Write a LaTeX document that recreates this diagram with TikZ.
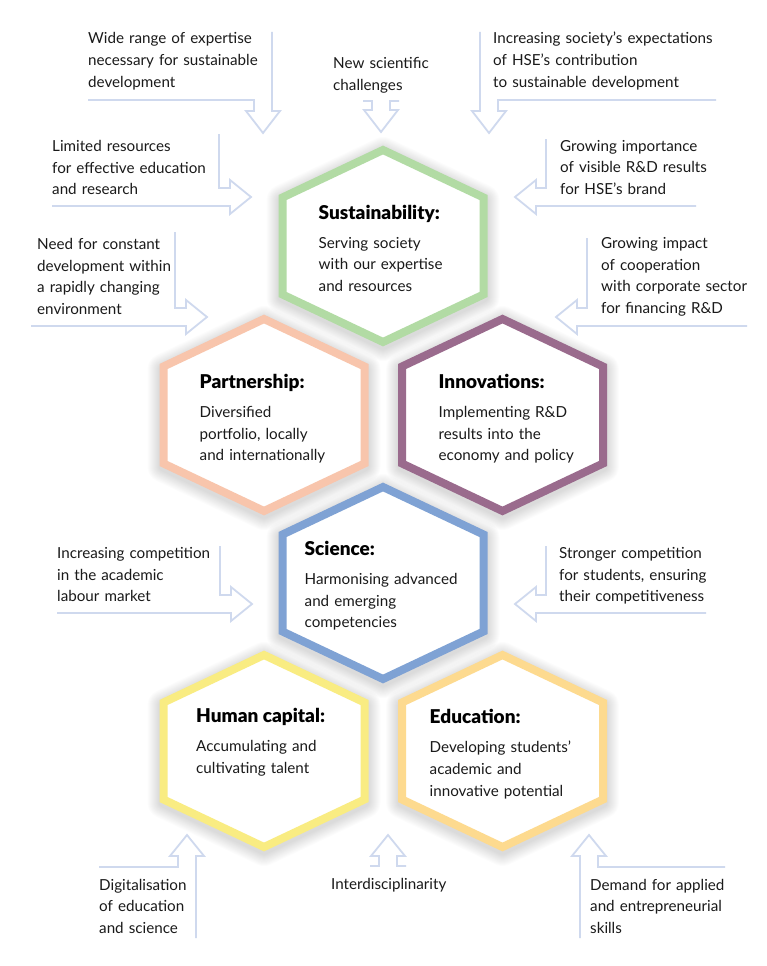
\documentclass[tikz,border=0pt]{standalone}
\usepackage{fontspec}
\setmainfont{Lato}
\newfontfamily\titlefont{Lato Black}
\definecolor{arr}{HTML}{CFD9EE}
\definecolor{cgreen}{HTML}{B2DBA4}
\definecolor{cpeach}{HTML}{F8C5AC}
\definecolor{cpurple}{HTML}{9A6B8D}
\definecolor{cblue}{HTML}{7FA2D4}
\definecolor{cyellow}{HTML}{F9EC82}
\definecolor{corange}{HTML}{FDDA8F}
\definecolor{txt}{HTML}{1A1A1A}
\tikzset{
  arrowline/.style={draw=arr, line width=1.8pt, line join=miter},
  hexline/.style={line width=8pt, fill=white, line join=miter},
  lbl/.style={anchor=base west, inner sep=0pt, align=left, text width=260pt, text=txt,
    font=\fontsize{15.2}{21.7}\selectfont},
  ttl/.style={anchor=base west, inner sep=0pt, text=black, font=\titlefont\fontsize{19}{21.7}\selectfont},
}
\begin{document}
\begin{tikzpicture}[x=1pt,y=-1pt]
\fill[white] (0,0) rectangle (767,966);
\useasboundingbox (0,0) rectangle (767,966);

% shadows
\foreach \cx/\cy in {383/246, 264/415, 502.5/415, 383/583, 264/751, 502.5/751}{
  \foreach \k in {1,...,12}{
    \pgfmathsetmacro\lw{8+2*\k}
    \draw[black, opacity=0.011, line width=\lw pt, line join=round]
      (\cx,\cy+3) ++(0,-96) -- ++(100.5,47.5) -- ++(0,97) -- ++(-100.5,47.5)
      -- ++(-100.5,-47.5) -- ++(0,-97) -- cycle;
  }
}
% hexagons
\foreach \cx/\cy/\col in {383/246/cgreen, 264/415/cpeach, 502.5/415/cpurple,
    383/583/cblue, 264/751/cyellow, 502.5/751/corange}{
  \draw[hexline, draw=\col] (\cx,\cy) ++(0,-96) -- ++(100.5,47.5) -- ++(0,97)
    -- ++(-100.5,47.5) -- ++(-100.5,-47.5) -- ++(0,-97) -- cycle;
}

% hexagon texts
\node[ttl] (h1t) at (318.5,219) {Sustainability:};
\node[lbl] (h1b) at (318.5,248) {Serving society\\with our expertise\\and resources};
\node[ttl] (h2t) at (199.5,388.3) {Partnership:};
\node[lbl] (h2b) at (199.5,417.3) {Diversified\\portfolio, locally\\and internationally};
\node[ttl] (h3t) at (438.5,388.3) {Innovations:};
\node[lbl] (h3b) at (438.5,417.3) {Implementing R\&D\\results into the\\economy and policy};
\node[ttl] (h4t) at (304.5,555) {Science:};
\node[lbl] (h4b) at (304.5,584.3) {Harmonising advanced\\and emerging\\competencies};
\node[ttl] (h5t) at (196,722.3) {Human capital:};
\node[lbl] (h5b) at (196,751.7) {Accumulating and\\cultivating talent};
\node[ttl] (h6t) at (429.5,723.3) {Education:};
\node[lbl] (h6b) at (429.5,752.7) {Developing students’\\academic and\\innovative potential};

% outer texts
\node[lbl] (t1) at (88,44) {Wide range of expertise\\necessary for sustainable\\development};
\node[lbl] (t2) at (333,68.3) {New scientific\\challenges};
\node[lbl] (t3) at (493,44) {Increasing society’s expectations\\of HSE’s contribution\\to sustainable development};
\node[lbl] (t4) at (52,151.5) {Limited resources\\for effective education\\and research};
\node[lbl] (t5) at (37,249.3) {Need for constant\\development within\\a rapidly changing\\environment};
\node[lbl] (t6) at (560,151) {Growing importance\\of visible R\&D results\\for HSE’s brand};
\node[lbl] (t7) at (601,248.5) {Growing impact\\of cooperation\\with corporate sector\\for financing R\&D};
\node[lbl] (t8) at (57,558.3) {Increasing competition\\in the academic\\labour market};
\node[lbl] (t9) at (559,558.3) {Stronger competition\\for students, ensuring\\their competitiveness};
\node[lbl] (t10) at (99,890) {Digitalisation\\of education\\and science};
\node[lbl] (t11) at (331,889.3) {Interdisciplinarity};
\node[lbl] (t12) at (590,890) {Demand for applied\\and entrepreneurial\\skills};

% arrows
\draw[arrowline] (88,100) -- (254,100) -- (254,111) -- (246,111) -- (263,133) -- (280,111) -- (272,111) -- (272,32);
\draw[arrowline] (363,101) -- (372,101) -- (372,110) -- (364,110) -- (381,132) -- (398,110) -- (390,110) -- (390,101) -- (399,101);
\draw[arrowline] (480,32) -- (480,111) -- (472,111) -- (489,133) -- (506,111) -- (498,111) -- (498,100) -- (716,100);
\draw[arrowline] (219,134) -- (219,188) -- (230,188) -- (230,180) -- (251,197) -- (230,214) -- (230,206) -- (52,206);
\draw[arrowline] (175,232) -- (175,308) -- (186,308) -- (186,300) -- (207,317) -- (186,334) -- (186,326) -- (31,326);
\draw[arrowline] (546,139) -- (546,188) -- (536,188) -- (536,180) -- (515,197) -- (536,214) -- (536,206) -- (696,206);
\draw[arrowline] (587,238) -- (587,308) -- (577,308) -- (577,300) -- (556,317) -- (577,334) -- (577,326) -- (747,326);
\draw[arrowline] (220,546) -- (220,595) -- (231,595) -- (231,587) -- (252,604) -- (231,621) -- (231,613) -- (57,613);
\draw[arrowline] (546,546) -- (546,595) -- (536,595) -- (536,587) -- (515,604) -- (536,621) -- (536,613) -- (706,613);
\draw[arrowline] (196,938) -- (196,856) -- (204,856) -- (187,835) -- (170,856) -- (178,856) -- (178,867) -- (99,867);
\draw[arrowline] (370,866) -- (379,866) -- (379,856) -- (371,856) -- (388,835) -- (405,856) -- (397,856) -- (397,866) -- (406,866);
\draw[arrowline] (580,938) -- (580,856) -- (572,856) -- (589,835) -- (606,856) -- (598,856) -- (598,867) -- (725,867);
\end{tikzpicture}
\end{document}
